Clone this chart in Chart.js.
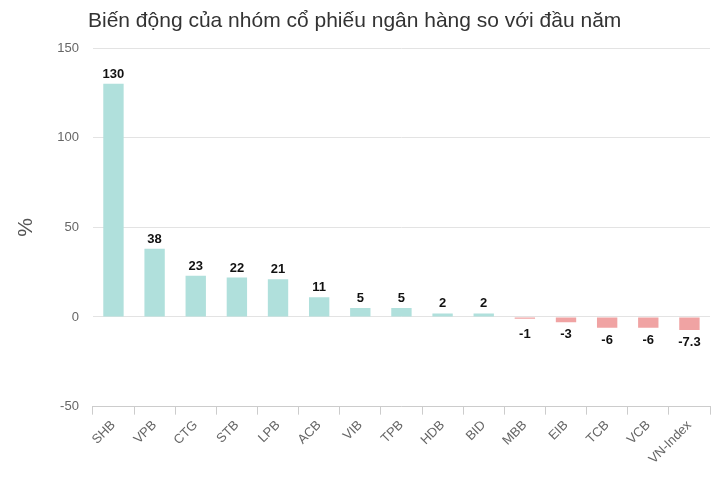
<!DOCTYPE html>
<html><head><meta charset="utf-8">
<script src="https://cdn.jsdelivr.net/npm/chart.js@4"></script>
<style>body{margin:0;background:#fff}#w{width:720px;height:480px;position:relative}</style>
</head><body><div id="w"><canvas id="c"></canvas></div>
<script>
const categories=["SHB","VPB","CTG","STB","LPB","ACB","VIB","TPB","HDB","BID","MBB","EIB","TCB","VCB","VN-Index"];
const values=[130,38,23,22,21,11,5,5,2,2,-1,-3,-6,-6,-7.3];
const yTicks=[-50,0,50,100,150];
const titleText='Biến động của nhóm cổ phiếu ngân hàng so với đầu năm';
const labelPlugin={id:'lbl',afterDatasetsDraw(ch){const ctx=ch.ctx;const meta=ch.getDatasetMeta(0);ctx.save();ctx.font='bold 13px "Liberation Sans", Arial';ctx.fillStyle='#111';ctx.textAlign='center';
meta.data.forEach((b,i)=>{const v=values[i];if(v>=0){ctx.textBaseline='bottom';ctx.fillText(String(v),b.x,b.y-3);}else{ctx.textBaseline='top';ctx.fillText(String(v),b.x,Math.max(b.y,b.base+4)+6);}});
ctx.font='21px "Liberation Sans", Arial';ctx.fillStyle='#333';ctx.textAlign='left';ctx.textBaseline='middle';ctx.fillText(titleText,88,21);ctx.restore();}};
new Chart(document.getElementById('c'),{type:'bar',data:{labels:categories,datasets:[{data:values,backgroundColor:values.map(v=>v>=0?'#b0e0dc':'#f0a3a3'),categoryPercentage:0.9,barPercentage:0.55}]},
options:{responsive:true,maintainAspectRatio:false,animation:false,layout:{padding:{left:10,right:10,top:48,bottom:10}},
plugins:{legend:{display:false},tooltip:{enabled:false}},
scales:{y:{min:-50,max:150,afterBuildTicks:a=>{a.ticks=yTicks.map(v=>({value:v}));},border:{display:false},grid:{color:'#e3e3e3',drawTicks:false},ticks:{color:'#666',padding:14,font:{size:13,family:'"Liberation Sans", Arial'}},title:{display:true,text:'%',color:'#555',font:{size:21,family:'"Liberation Sans", Arial'}}},
x:{border:{color:'#ccc'},grid:{drawOnChartArea:false,color:'#ccc',tickLength:8,offset:true},ticks:{color:'#666',maxRotation:45,minRotation:45,font:{size:13,family:'"Liberation Sans", Arial'}}}}},
plugins:[labelPlugin]});
</script></body></html>
